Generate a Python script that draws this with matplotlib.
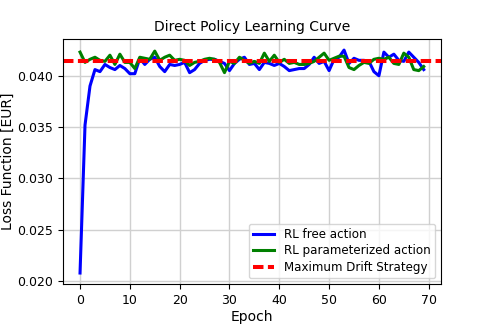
import numpy as np
import matplotlib
matplotlib.use('Agg')
import matplotlib.pyplot as plt

# loss per epoch
epochs = np.arange(70)
rl_free = [
    0.0208, 0.0352, 0.0390, 0.0406, 0.0404, 0.0411, 0.0408, 0.0406, 0.0410, 0.0407,
    0.0402, 0.0402, 0.0417, 0.0411, 0.0416, 0.0418, 0.0409, 0.0404, 0.0411, 0.0410,
    0.0411, 0.0413, 0.0403, 0.0406, 0.0412, 0.0415, 0.0416, 0.0416, 0.0414, 0.0412,
    0.0405, 0.0412, 0.0416, 0.0418, 0.0411, 0.0412, 0.0406, 0.0413, 0.0412, 0.0410,
    0.0412, 0.0409, 0.0405, 0.0406, 0.0407, 0.0407, 0.0411, 0.0418, 0.0412, 0.0414,
    0.0405, 0.0416, 0.0418, 0.0425, 0.0412, 0.0417, 0.0415, 0.0415, 0.0414, 0.0404,
    0.0400, 0.0423, 0.0418, 0.0421, 0.0415, 0.0414, 0.0423, 0.0418, 0.0413, 0.0406,
]
rl_param = [
    0.0423, 0.0413, 0.0416, 0.0418, 0.0415, 0.0414, 0.0420, 0.0411, 0.0421, 0.0413,
    0.0413, 0.0407, 0.0418, 0.0417, 0.0416, 0.0424, 0.0415, 0.0418, 0.0420, 0.0415,
    0.0416, 0.0415, 0.0410, 0.0413, 0.0414, 0.0416, 0.0417, 0.0416, 0.0413, 0.0403,
    0.0414, 0.0412, 0.0418, 0.0415, 0.0412, 0.0414, 0.0412, 0.0422, 0.0414, 0.0420,
    0.0413, 0.0416, 0.0412, 0.0413, 0.0411, 0.0411, 0.0412, 0.0414, 0.0418, 0.0422,
    0.0415, 0.0417, 0.0419, 0.0419, 0.0408, 0.0406, 0.0410, 0.0413, 0.0412, 0.0416,
    0.0417, 0.0416, 0.0418, 0.0412, 0.0411, 0.0422, 0.0418, 0.0406, 0.0405, 0.0409,
]
max_drift = 0.04145

fig = plt.figure(figsize=(4.91, 3.27), dpi=100)
ax = fig.add_axes([0.128, 0.131, 0.77, 0.75])

ax.plot(epochs, rl_free, color='blue', lw=2.2, label='RL free action')
ax.plot(epochs, rl_param, color='green', lw=2.2, label='RL parameterized action')
ax.axhline(max_drift, color='red', ls=(0, (2.6, 1.1)), lw=2.9,
           label='Maximum Drift Strategy')

ax.set_title('Direct Policy Learning Curve', fontsize=10)
ax.set_xlabel('Epoch', fontsize=10, labelpad=2)
ax.set_ylabel('Loss Function [EUR]', fontsize=10, labelpad=1.5)
ax.tick_params(labelsize=9)
ax.grid(True, color='#d0d0d0', lw=1)
ax.legend(loc='lower right', fontsize=8.6, labelspacing=0.3,
          handlelength=1.8, borderpad=0.35)

fig.savefig('out.png', dpi=100)
